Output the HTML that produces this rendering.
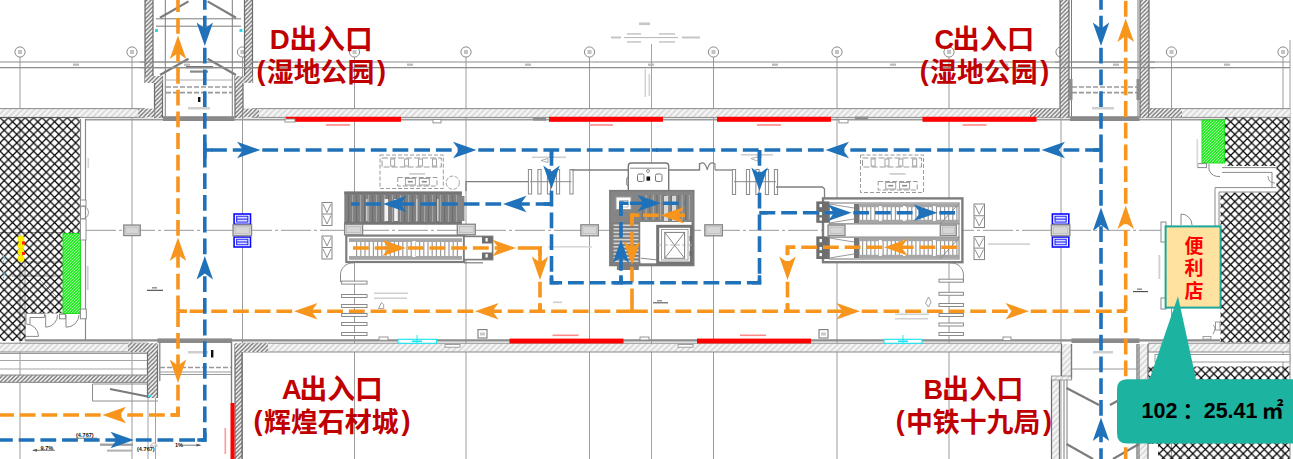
<!DOCTYPE html>
<html><head><meta charset="utf-8"><title>Station plan</title>
<style>
html,body{margin:0;padding:0;background:#fff;}
body{width:1293px;height:459px;overflow:hidden;font-family:"Liberation Sans",sans-serif;}
svg{display:block;}
svg text{font-family:"Liberation Sans",sans-serif;}
svg text.cjk{font-family:"Liberation Sans","Noto Sans CJK SC",sans-serif;}
</style></head><body>
<svg width="1293" height="459" viewBox="0 0 1293 459">
<defs>
<pattern id="xh" width="8.4" height="8.4" patternUnits="userSpaceOnUse">
<path d="M-1,-1 L9.4,9.4 M-1,9.4 L9.4,-1" stroke="#000" stroke-width="1.18" fill="none"/>
</pattern>
<pattern id="wh" width="6" height="6" patternUnits="userSpaceOnUse">
<rect width="6" height="6" fill="#f6f6f6"/><path d="M-1,7 L7,-1 M-1,1 L1,-1 M5,7 L7,5" stroke="#dcdcdc" stroke-width="2"/>
</pattern>
<pattern id="dh" width="4.2" height="4.2" patternUnits="userSpaceOnUse">
<rect width="4.2" height="4.2" fill="#f3f3f3"/><path d="M-1,5.2 L5.2,-1 M-1,1 L1,-1 M3.2,5.2 L5.2,3.2" stroke="#6c6c6c" stroke-width="1.25"/>
</pattern>
<pattern id="gh" width="3" height="3" patternUnits="userSpaceOnUse">
<rect width="3" height="3" fill="#2aec2a"/><path d="M-1,4 L4,-1 M-1,1 L1,-1 M2,4 L4,2" stroke="#b8fbb2" stroke-width="0.8"/>
</pattern>
</defs>
<rect width="1293" height="459" fill="#fff"/>
<g id="grid">
<line x1="20" y1="57.2" x2="20" y2="459" stroke="#9b9b9b" stroke-width="1" />
<circle cx="20" cy="52" r="5.1" fill="#fff" stroke="#7d7d7d" stroke-width="0.9"/>
<rect x="18" y="50" width="4" height="4" fill="#a9a9a9" opacity="0.7"/>
<line x1="132" y1="57.2" x2="132" y2="459" stroke="#9b9b9b" stroke-width="1" />
<circle cx="132" cy="52" r="5.1" fill="#fff" stroke="#7d7d7d" stroke-width="0.9"/>
<rect x="130" y="50" width="4" height="4" fill="#a9a9a9" opacity="0.7"/>
<line x1="242.5" y1="57.2" x2="242.5" y2="459" stroke="#9b9b9b" stroke-width="1" />
<circle cx="242.5" cy="52" r="5.1" fill="#fff" stroke="#7d7d7d" stroke-width="0.9"/>
<rect x="240.5" y="50" width="4" height="4" fill="#a9a9a9" opacity="0.7"/>
<line x1="354.5" y1="57.2" x2="354.5" y2="459" stroke="#9b9b9b" stroke-width="1" />
<circle cx="354.5" cy="52" r="5.1" fill="#fff" stroke="#7d7d7d" stroke-width="0.9"/>
<rect x="352.5" y="50" width="4" height="4" fill="#a9a9a9" opacity="0.7"/>
<line x1="466" y1="57.2" x2="466" y2="459" stroke="#9b9b9b" stroke-width="1" />
<circle cx="466" cy="52" r="5.1" fill="#fff" stroke="#7d7d7d" stroke-width="0.9"/>
<rect x="464" y="50" width="4" height="4" fill="#a9a9a9" opacity="0.7"/>
<line x1="589.5" y1="57.2" x2="589.5" y2="459" stroke="#9b9b9b" stroke-width="1" />
<circle cx="589.5" cy="52" r="5.1" fill="#fff" stroke="#7d7d7d" stroke-width="0.9"/>
<rect x="587.5" y="50" width="4" height="4" fill="#a9a9a9" opacity="0.7"/>
<line x1="713.5" y1="57.2" x2="713.5" y2="459" stroke="#9b9b9b" stroke-width="1" />
<circle cx="713.5" cy="52" r="5.1" fill="#fff" stroke="#7d7d7d" stroke-width="0.9"/>
<rect x="711.5" y="50" width="4" height="4" fill="#a9a9a9" opacity="0.7"/>
<line x1="837" y1="57.2" x2="837" y2="459" stroke="#9b9b9b" stroke-width="1" />
<circle cx="837" cy="52" r="5.1" fill="#fff" stroke="#7d7d7d" stroke-width="0.9"/>
<rect x="835" y="50" width="4" height="4" fill="#a9a9a9" opacity="0.7"/>
<line x1="949" y1="57.2" x2="949" y2="459" stroke="#9b9b9b" stroke-width="1" />
<circle cx="949" cy="52" r="5.1" fill="#fff" stroke="#7d7d7d" stroke-width="0.9"/>
<rect x="947" y="50" width="4" height="4" fill="#a9a9a9" opacity="0.7"/>
<line x1="1061" y1="57.2" x2="1061" y2="459" stroke="#9b9b9b" stroke-width="1" />
<circle cx="1061" cy="52" r="5.1" fill="#fff" stroke="#7d7d7d" stroke-width="0.9"/>
<rect x="1059" y="50" width="4" height="4" fill="#a9a9a9" opacity="0.7"/>
<line x1="1171.5" y1="57.2" x2="1171.5" y2="459" stroke="#9b9b9b" stroke-width="1" />
<circle cx="1171.5" cy="52" r="5.1" fill="#fff" stroke="#7d7d7d" stroke-width="0.9"/>
<rect x="1169.5" y="50" width="4" height="4" fill="#a9a9a9" opacity="0.7"/>
<line x1="1283" y1="57.2" x2="1283" y2="459" stroke="#9b9b9b" stroke-width="1" />
<circle cx="1283" cy="52" r="5.1" fill="#fff" stroke="#7d7d7d" stroke-width="0.9"/>
<rect x="1281" y="50" width="4" height="4" fill="#a9a9a9" opacity="0.7"/>
<line x1="651.5" y1="44" x2="651.5" y2="459" stroke="#9b9b9b" stroke-width="0.9" />
<line x1="0" y1="62" x2="1290" y2="62" stroke="#8d8d8d" stroke-width="1.1" />
<line x1="0" y1="67.6" x2="1290" y2="67.6" stroke="#8d8d8d" stroke-width="1.1" />
<line x1="1290" y1="40" x2="1290" y2="118" stroke="#9b9b9b" stroke-width="1" />
<line x1="86" y1="230.3" x2="1165" y2="230.3" stroke="#8e8e8e" stroke-width="0.9" stroke-dasharray="30 3 3 3"/>
<rect x="73" y="63.6" width="6" height="2.2" fill="#b9b9b9" stroke="none" stroke-width="1" />
<rect x="184" y="63.6" width="6" height="2.2" fill="#b9b9b9" stroke="none" stroke-width="1" />
<rect x="295" y="63.6" width="6" height="2.2" fill="#b9b9b9" stroke="none" stroke-width="1" />
<rect x="407" y="63.6" width="6" height="2.2" fill="#b9b9b9" stroke="none" stroke-width="1" />
<rect x="525" y="63.6" width="6" height="2.2" fill="#b9b9b9" stroke="none" stroke-width="1" />
<rect x="648" y="63.6" width="6" height="2.2" fill="#b9b9b9" stroke="none" stroke-width="1" />
<rect x="772" y="63.6" width="6" height="2.2" fill="#b9b9b9" stroke="none" stroke-width="1" />
<rect x="890" y="63.6" width="6" height="2.2" fill="#b9b9b9" stroke="none" stroke-width="1" />
<rect x="1002" y="63.6" width="6" height="2.2" fill="#b9b9b9" stroke="none" stroke-width="1" />
<rect x="1113" y="63.6" width="6" height="2.2" fill="#b9b9b9" stroke="none" stroke-width="1" />
<rect x="1224" y="63.6" width="6" height="2.2" fill="#b9b9b9" stroke="none" stroke-width="1" />
</g>
<g id="walls">
<rect x="0" y="108.6" width="145" height="8.800000000000011" fill="url(#wh)" stroke="none" stroke-width="1" />
<line x1="0" y1="108.6" x2="145" y2="108.6" stroke="#8a8a8a" stroke-width="1" />
<line x1="0" y1="117.4" x2="145" y2="117.4" stroke="#8a8a8a" stroke-width="1" />
<rect x="252.5" y="108.6" width="807.5" height="8.800000000000011" fill="url(#wh)" stroke="none" stroke-width="1" />
<line x1="252.5" y1="108.6" x2="1060" y2="108.6" stroke="#8a8a8a" stroke-width="1" />
<line x1="252.5" y1="117.4" x2="1060" y2="117.4" stroke="#8a8a8a" stroke-width="1" />
<rect x="1149" y="108.6" width="141" height="8.800000000000011" fill="url(#wh)" stroke="none" stroke-width="1" />
<line x1="1149" y1="108.6" x2="1290" y2="108.6" stroke="#8a8a8a" stroke-width="1" />
<line x1="1149" y1="117.4" x2="1290" y2="117.4" stroke="#8a8a8a" stroke-width="1" />
<line x1="85" y1="119.6" x2="1225" y2="119.6" stroke="#9a9a9a" stroke-width="1.6" />
<rect x="0" y="343.2" width="148" height="8.800000000000011" fill="url(#wh)" stroke="none" stroke-width="1" />
<line x1="0" y1="343.2" x2="148" y2="343.2" stroke="#8a8a8a" stroke-width="1" />
<line x1="0" y1="352" x2="148" y2="352" stroke="#8a8a8a" stroke-width="1" />
<rect x="241.5" y="343.2" width="820.5" height="8.800000000000011" fill="url(#wh)" stroke="none" stroke-width="1" />
<line x1="241.5" y1="343.2" x2="1062" y2="343.2" stroke="#8a8a8a" stroke-width="1" />
<line x1="241.5" y1="352" x2="1062" y2="352" stroke="#8a8a8a" stroke-width="1" />
<rect x="1148" y="343.2" width="142" height="8.800000000000011" fill="url(#wh)" stroke="none" stroke-width="1" />
<line x1="1148" y1="343.2" x2="1290" y2="343.2" stroke="#8a8a8a" stroke-width="1" />
<line x1="1148" y1="352" x2="1290" y2="352" stroke="#8a8a8a" stroke-width="1" />
<line x1="25" y1="340.3" x2="1220" y2="340.3" stroke="#8c8c8c" stroke-width="2.2" />
</g>
<g id="entrances">
<rect x="145" y="0" width="8" height="83" fill="url(#dh)" stroke="none" stroke-width="1" />
<line x1="145" y1="0" x2="145" y2="83" stroke="#6c6c6c" stroke-width="1.2" />
<line x1="153" y1="0" x2="153" y2="83" stroke="#6c6c6c" stroke-width="1.2" />
<rect x="244.5" y="0" width="8.0" height="83" fill="url(#dh)" stroke="none" stroke-width="1" />
<line x1="244.5" y1="0" x2="244.5" y2="83" stroke="#6c6c6c" stroke-width="1.2" />
<line x1="252.5" y1="0" x2="252.5" y2="83" stroke="#6c6c6c" stroke-width="1.2" />
<rect x="154.5" y="76" width="8.0" height="42" fill="url(#dh)" stroke="none" stroke-width="1" />
<line x1="154.5" y1="76" x2="154.5" y2="118" stroke="#6c6c6c" stroke-width="1.2" />
<line x1="162.5" y1="76" x2="162.5" y2="118" stroke="#6c6c6c" stroke-width="1.2" />
<rect x="235" y="76" width="8" height="42" fill="url(#dh)" stroke="none" stroke-width="1" />
<line x1="235" y1="76" x2="235" y2="118" stroke="#6c6c6c" stroke-width="1.2" />
<line x1="243" y1="76" x2="243" y2="118" stroke="#6c6c6c" stroke-width="1.2" />
<rect x="145" y="76" width="17.5" height="7" fill="url(#dh)" stroke="none" stroke-width="1" />
<rect x="235" y="76" width="17.5" height="7" fill="url(#dh)" stroke="none" stroke-width="1" />
<rect x="138" y="108.6" width="16.5" height="8.800000000000011" fill="url(#dh)" stroke="none" stroke-width="1" />
<rect x="243" y="108.6" width="16" height="8.800000000000011" fill="url(#dh)" stroke="none" stroke-width="1" />
<line x1="165.3" y1="0" x2="165.3" y2="118" stroke="#7c7c7c" stroke-width="1" />
<line x1="232.3" y1="0" x2="232.3" y2="118" stroke="#7c7c7c" stroke-width="1" />
<line x1="156" y1="18.8" x2="241" y2="18.8" stroke="#7c7c7c" stroke-width="1" />
<line x1="156" y1="26.2" x2="241" y2="26.2" stroke="#7c7c7c" stroke-width="1" />
<line x1="160" y1="17.7" x2="188.5" y2="1.4" stroke="#7c7c7c" stroke-width="2.2" />
<line x1="236" y1="17.7" x2="207.6" y2="1.4" stroke="#7c7c7c" stroke-width="2.2" />
<line x1="160" y1="75" x2="188.5" y2="58.8" stroke="#7c7c7c" stroke-width="2.2" />
<line x1="236" y1="75" x2="207.6" y2="58.8" stroke="#7c7c7c" stroke-width="2.2" />
<line x1="165" y1="80" x2="232" y2="80" stroke="#9a9a9a" stroke-width="0.8" />
<line x1="166" y1="87" x2="232" y2="87" stroke="#9a9a9a" stroke-width="1.6" stroke-dasharray="5 2"/>
<line x1="166" y1="92.6" x2="232" y2="92.6" stroke="#9a9a9a" stroke-width="1.6" stroke-dasharray="5 2"/>
<rect x="155" y="29" width="3" height="3" fill="#35d6e6" stroke="none" stroke-width="1" />
<rect x="239.5" y="29" width="3" height="3" fill="#35d6e6" stroke="none" stroke-width="1" />
<rect x="163" y="116.2" width="71.5" height="4.799999999999997" fill="#8a8a8a" stroke="none" stroke-width="1" />
<rect x="186" y="66" width="27" height="2.2" fill="#777" stroke="none" stroke-width="1" />
<rect x="190" y="70.5" width="18" height="2.2" fill="#8a8a8a" stroke="none" stroke-width="1" />
<rect x="198" y="97" width="2.4" height="5" fill="#111" stroke="none" stroke-width="1" />
<rect x="188" y="107" width="22" height="2.5" fill="#cfcfcf" stroke="none" stroke-width="1" />
<rect x="1060" y="0" width="9" height="118" fill="url(#dh)" stroke="none" stroke-width="1" />
<line x1="1060" y1="0" x2="1060" y2="118" stroke="#6c6c6c" stroke-width="1.2" />
<line x1="1069" y1="0" x2="1069" y2="118" stroke="#6c6c6c" stroke-width="1.2" />
<rect x="1140" y="0" width="9" height="118" fill="url(#dh)" stroke="none" stroke-width="1" />
<line x1="1140" y1="0" x2="1140" y2="118" stroke="#6c6c6c" stroke-width="1.2" />
<line x1="1149" y1="0" x2="1149" y2="118" stroke="#6c6c6c" stroke-width="1.2" />
<rect x="1030" y="108.6" width="30" height="8.800000000000011" fill="url(#dh)" stroke="none" stroke-width="1" />
<rect x="1149" y="108.6" width="33" height="8.800000000000011" fill="url(#dh)" stroke="none" stroke-width="1" />
<line x1="1071.5" y1="0" x2="1071.5" y2="118" stroke="#7c7c7c" stroke-width="1" />
<line x1="1138" y1="0" x2="1138" y2="118" stroke="#7c7c7c" stroke-width="1" />
<line x1="1072" y1="87" x2="1138" y2="87" stroke="#9a9a9a" stroke-width="1.6" stroke-dasharray="5 2"/>
<line x1="1072" y1="92.6" x2="1138" y2="92.6" stroke="#9a9a9a" stroke-width="1.6" stroke-dasharray="5 2"/>
<rect x="1069" y="79" width="3.5" height="21" fill="#8c8c8c" stroke="none" stroke-width="1" />
<rect x="1136.5" y="79" width="3.5" height="21" fill="#8c8c8c" stroke="none" stroke-width="1" />
<rect x="1070" y="116.2" width="69.5" height="4.799999999999997" fill="#8a8a8a" stroke="none" stroke-width="1" />
<rect x="1092" y="107" width="22" height="2.5" fill="#cfcfcf" stroke="none" stroke-width="1" />
<rect x="147.5" y="344" width="10.0" height="54" fill="url(#dh)" stroke="none" stroke-width="1" />
<line x1="147.5" y1="344" x2="147.5" y2="398" stroke="#6c6c6c" stroke-width="1.2" />
<line x1="157.5" y1="344" x2="157.5" y2="398" stroke="#6c6c6c" stroke-width="1.2" />
<rect x="235" y="344" width="7" height="115" fill="url(#dh)" stroke="none" stroke-width="1" />
<line x1="235" y1="344" x2="235" y2="459" stroke="#6c6c6c" stroke-width="1.2" />
<line x1="242" y1="344" x2="242" y2="459" stroke="#6c6c6c" stroke-width="1.2" />
<rect x="128" y="343.2" width="29.5" height="8.800000000000011" fill="url(#dh)" stroke="none" stroke-width="1" />
<rect x="235" y="343.2" width="33" height="8.800000000000011" fill="url(#dh)" stroke="none" stroke-width="1" />
<line x1="159.8" y1="341" x2="159.8" y2="381" stroke="#7c7c7c" stroke-width="1.2" />
<line x1="231.5" y1="341" x2="231.5" y2="403" stroke="#7c7c7c" stroke-width="1.4" />
<rect x="157.5" y="338.4" width="74.5" height="4.600000000000023" fill="#8a8a8a" stroke="none" stroke-width="1" />
<line x1="160" y1="367.5" x2="231" y2="367.5" stroke="#9a9a9a" stroke-width="1.6" stroke-dasharray="5 2"/>
<line x1="160" y1="372" x2="231" y2="372" stroke="#9a9a9a" stroke-width="1" />
<line x1="160" y1="374.5" x2="231" y2="374.5" stroke="#9a9a9a" stroke-width="1" />
<rect x="0" y="375" width="147.5" height="7.399999999999977" fill="url(#dh)" stroke="none" stroke-width="1" />
<line x1="0" y1="375" x2="147.5" y2="375" stroke="#8a8a8a" stroke-width="1" />
<line x1="0" y1="382.4" x2="147.5" y2="382.4" stroke="#8a8a8a" stroke-width="1" />
<line x1="0" y1="353.5" x2="147" y2="353.5" stroke="#9a9a9a" stroke-width="1" />
<line x1="0" y1="360.5" x2="147" y2="360.5" stroke="#a5a5a5" stroke-width="1" />
<line x1="0" y1="369" x2="147" y2="369" stroke="#a5a5a5" stroke-width="1" />
<polyline points="92.5,384 92.5,401 158,401" fill="none" stroke="#8e8e8e" stroke-width="1" />
<line x1="92.5" y1="384" x2="148" y2="384" stroke="#8e8e8e" stroke-width="1" />
<line x1="110" y1="389" x2="150" y2="397" stroke="#7a7a7a" stroke-width="1.8" />
<rect x="148" y="395" width="3" height="2" fill="#35d6e6" stroke="none" stroke-width="1" />
<line x1="148" y1="398" x2="148" y2="459" stroke="#9a9a9a" stroke-width="0.9" />
<line x1="155.5" y1="398" x2="155.5" y2="459" stroke="#9a9a9a" stroke-width="0.9" />
<rect x="211" y="350" width="2.4" height="7.5" fill="#111" stroke="none" stroke-width="1" />
<rect x="188" y="351" width="20" height="2.5" fill="#cfcfcf" stroke="none" stroke-width="1" />
<rect x="1061.5" y="344" width="10.0" height="36" fill="url(#wh)" stroke="none" stroke-width="1" />
<line x1="1061.5" y1="344" x2="1061.5" y2="380" stroke="#6c6c6c" stroke-width="1.2" />
<line x1="1071.5" y1="344" x2="1071.5" y2="380" stroke="#6c6c6c" stroke-width="1.2" />
<rect x="1051.5" y="378" width="8.0" height="81" fill="url(#wh)" stroke="none" stroke-width="1" />
<line x1="1051.5" y1="378" x2="1051.5" y2="459" stroke="#6c6c6c" stroke-width="1.2" />
<line x1="1059.5" y1="378" x2="1059.5" y2="459" stroke="#6c6c6c" stroke-width="1.2" />
<line x1="1064" y1="380" x2="1064" y2="459" stroke="#7c7c7c" stroke-width="1" />
<line x1="1067" y1="380" x2="1067" y2="459" stroke="#7c7c7c" stroke-width="1" />
<rect x="1051.5" y="376" width="20.0" height="4" fill="url(#wh)" stroke="#8a8a8a" stroke-width="0.8" />
<rect x="1137" y="344" width="11" height="115" fill="url(#wh)" stroke="none" stroke-width="1" />
<line x1="1137" y1="344" x2="1137" y2="459" stroke="#6c6c6c" stroke-width="1.2" />
<line x1="1148" y1="344" x2="1148" y2="459" stroke="#6c6c6c" stroke-width="1.2" />
<line x1="1071.5" y1="344" x2="1071.5" y2="378" stroke="#7c7c7c" stroke-width="1.2" />
<line x1="1139" y1="344" x2="1139" y2="459" stroke="#7c7c7c" stroke-width="1.2" />
<rect x="1071.5" y="338.4" width="68.0" height="4.600000000000023" fill="#8a8a8a" stroke="none" stroke-width="1" />
<line x1="1072" y1="369" x2="1139" y2="369" stroke="#9a9a9a" stroke-width="1" />
<line x1="1066.5" y1="388" x2="1099" y2="405" stroke="#7c7c7c" stroke-width="2.2" />
<line x1="1110" y1="405" x2="1139" y2="389" stroke="#7c7c7c" stroke-width="2.2" />
<line x1="1066.5" y1="444" x2="1093" y2="459" stroke="#7c7c7c" stroke-width="2.2" />
<line x1="1139" y1="444" x2="1113" y2="459" stroke="#7c7c7c" stroke-width="2.2" />
<rect x="1093" y="351" width="20" height="2.5" fill="#cfcfcf" stroke="none" stroke-width="1" />
</g>
<g>
<line x1="140" y1="62" x2="258" y2="62" stroke="#8d8d8d" stroke-width="1.1" />
<line x1="140" y1="67.6" x2="258" y2="67.6" stroke="#8d8d8d" stroke-width="1.1" />
<line x1="1055" y1="62" x2="1155" y2="62" stroke="#8d8d8d" stroke-width="1.1" />
<line x1="1055" y1="67.6" x2="1155" y2="67.6" stroke="#8d8d8d" stroke-width="1.1" />
</g>
<g id="bars">
<rect x="286" y="116.8" width="115" height="5.0" fill="#ff0000" stroke="none" stroke-width="1" />
<rect x="326" y="124.2" width="24" height="1.6" fill="#ff8a8a" stroke="none" stroke-width="1" />
<rect x="549" y="116.8" width="114" height="5.0" fill="#ff0000" stroke="none" stroke-width="1" />
<rect x="589" y="124.2" width="24" height="1.6" fill="#ff8a8a" stroke="none" stroke-width="1" />
<rect x="717" y="116.8" width="114" height="5.0" fill="#ff0000" stroke="none" stroke-width="1" />
<rect x="757" y="124.2" width="24" height="1.6" fill="#ff8a8a" stroke="none" stroke-width="1" />
<rect x="922.5" y="116.8" width="114.0" height="5.0" fill="#ff0000" stroke="none" stroke-width="1" />
<rect x="962.5" y="124.2" width="24" height="1.6" fill="#ff8a8a" stroke="none" stroke-width="1" />
<rect x="509.5" y="338.6" width="114.0" height="4.7999999999999545" fill="#ff0000" stroke="none" stroke-width="1" />
<rect x="552.5" y="334.5" width="26" height="1.6" fill="#ff8a8a" stroke="none" stroke-width="1" />
<rect x="697" y="338.6" width="114" height="4.7999999999999545" fill="#ff0000" stroke="none" stroke-width="1" />
<rect x="740" y="334.5" width="26" height="1.6" fill="#ff8a8a" stroke="none" stroke-width="1" />
<rect x="398" y="339.3" width="38.5" height="4.0" fill="#fff" stroke="#19e6f2" stroke-width="1.1" />
<line x1="412" y1="341.3" x2="422" y2="341.3" stroke="#19e6f2" stroke-width="1.6" />
<line x1="417" y1="335" x2="417" y2="344" stroke="#19e6f2" stroke-width="0.9" />
<rect x="884" y="339.3" width="38" height="4.0" fill="#fff" stroke="#19e6f2" stroke-width="1.1" />
<line x1="898" y1="341.3" x2="908" y2="341.3" stroke="#19e6f2" stroke-width="1.6" />
<line x1="903" y1="335" x2="903" y2="344" stroke="#19e6f2" stroke-width="0.9" />
<rect x="230.5" y="403" width="4.0" height="56" fill="#ff0000" stroke="none" stroke-width="1" />
<rect x="224.5" y="428" width="1.6" height="26" fill="#ff9a9a" stroke="none" stroke-width="1" />
</g>
<g id="xhatch">
<line x1="0" y1="232.5" x2="63" y2="232.5" stroke="#9a9a9a" stroke-width="1" />
<line x1="25" y1="262" x2="63" y2="262" stroke="#9a9a9a" stroke-width="1" />
<line x1="25" y1="262" x2="25" y2="341" stroke="#9a9a9a" stroke-width="1" />
<line x1="12" y1="276" x2="60" y2="276" stroke="#9a9a9a" stroke-width="1" />
<line x1="40" y1="280" x2="58" y2="298" stroke="#9a9a9a" stroke-width="1" />
<polygon points="0,117.4 79.8,117.4 79.8,233 63,233 63,313.5 25.5,313.5 25.5,341 0,341" fill="url(#xh)" stroke="none" stroke-width="1" />
<line x1="0" y1="117.6" x2="80" y2="117.6" stroke="#555" stroke-width="1" />
<line x1="80.5" y1="119" x2="80.5" y2="233" stroke="#8a8a8a" stroke-width="1.2" />
<line x1="85.5" y1="119" x2="85.5" y2="340" stroke="#8a8a8a" stroke-width="1.2" />
<polygon points="1225,117.4 1290,117.4 1290,342.5 1220.5,342.5 1220.5,192.5 1276.5,192.5 1276.5,166 1225,166" fill="url(#xh)" stroke="none" stroke-width="1" />
<polygon points="1148.5,366.5 1290,366.5 1290,459 1158,459 1158,444 1148.5,444" fill="url(#xh)" stroke="none" stroke-width="1" />
<line x1="1290" y1="117" x2="1290" y2="459" stroke="#8a8a8a" stroke-width="1" />
<rect x="63" y="233.5" width="17.5" height="80.0" fill="url(#gh)" stroke="#1edc1e" stroke-width="1" />
<rect x="1202" y="120" width="22.5" height="43" fill="url(#gh)" stroke="#1edc1e" stroke-width="1" />
<path d="M3,254 q3,4 0,9 M3,270 q3,4 0,9" fill="none" stroke="#7fd4f0" stroke-width="1"/>
<circle cx="21" cy="239" r="3.4" fill="#ffee00"/>
<circle cx="21" cy="245.5" r="3.4" fill="#ffee00"/>
<circle cx="21" cy="252" r="3.4" fill="#ffee00"/>
<circle cx="21" cy="258.5" r="3.4" fill="#ffee00"/>
<rect x="22" y="241.5" width="3" height="3" fill="#ff2a00" stroke="none" stroke-width="1" />
<rect x="22" y="252" width="3" height="3" fill="#ff2a00" stroke="none" stroke-width="1" />
</g>
<g id="fixtures">
<rect x="344.3" y="191.6" width="117.5" height="32.900000000000006" fill="#808080" stroke="none" stroke-width="1" />
<rect x="348" y="195" width="1.1" height="27" fill="#6c6c6c" stroke="none" stroke-width="1" />
<rect x="352" y="195" width="1.1" height="27" fill="#a2a2a2" stroke="none" stroke-width="1" />
<rect x="356" y="195" width="1.1" height="27" fill="#6c6c6c" stroke="none" stroke-width="1" />
<rect x="360" y="195" width="1.1" height="27" fill="#a2a2a2" stroke="none" stroke-width="1" />
<rect x="364" y="195" width="1.1" height="27" fill="#6c6c6c" stroke="none" stroke-width="1" />
<rect x="368" y="195" width="1.1" height="27" fill="#a2a2a2" stroke="none" stroke-width="1" />
<rect x="372" y="195" width="1.1" height="27" fill="#6c6c6c" stroke="none" stroke-width="1" />
<rect x="376" y="195" width="1.1" height="27" fill="#a2a2a2" stroke="none" stroke-width="1" />
<rect x="380" y="195" width="1.1" height="27" fill="#6c6c6c" stroke="none" stroke-width="1" />
<rect x="384" y="195" width="1.1" height="27" fill="#a2a2a2" stroke="none" stroke-width="1" />
<rect x="388" y="195" width="1.1" height="27" fill="#6c6c6c" stroke="none" stroke-width="1" />
<rect x="392" y="195" width="1.1" height="27" fill="#a2a2a2" stroke="none" stroke-width="1" />
<rect x="396" y="195" width="1.1" height="27" fill="#6c6c6c" stroke="none" stroke-width="1" />
<rect x="400" y="195" width="1.1" height="27" fill="#a2a2a2" stroke="none" stroke-width="1" />
<rect x="404" y="195" width="1.1" height="27" fill="#6c6c6c" stroke="none" stroke-width="1" />
<rect x="408" y="195" width="1.1" height="27" fill="#a2a2a2" stroke="none" stroke-width="1" />
<rect x="412" y="195" width="1.1" height="27" fill="#6c6c6c" stroke="none" stroke-width="1" />
<rect x="416" y="195" width="1.1" height="27" fill="#a2a2a2" stroke="none" stroke-width="1" />
<rect x="420" y="195" width="1.1" height="27" fill="#6c6c6c" stroke="none" stroke-width="1" />
<rect x="424" y="195" width="1.1" height="27" fill="#a2a2a2" stroke="none" stroke-width="1" />
<rect x="428" y="195" width="1.1" height="27" fill="#6c6c6c" stroke="none" stroke-width="1" />
<rect x="432" y="195" width="1.1" height="27" fill="#a2a2a2" stroke="none" stroke-width="1" />
<rect x="436" y="195" width="1.1" height="27" fill="#6c6c6c" stroke="none" stroke-width="1" />
<rect x="440" y="195" width="1.1" height="27" fill="#a2a2a2" stroke="none" stroke-width="1" />
<rect x="444" y="195" width="1.1" height="27" fill="#6c6c6c" stroke="none" stroke-width="1" />
<rect x="448" y="195" width="1.1" height="27" fill="#a2a2a2" stroke="none" stroke-width="1" />
<rect x="452" y="195" width="1.1" height="27" fill="#6c6c6c" stroke="none" stroke-width="1" />
<rect x="456" y="195" width="1.1" height="27" fill="#a2a2a2" stroke="none" stroke-width="1" />
<rect x="460" y="195" width="1.1" height="27" fill="#6c6c6c" stroke="none" stroke-width="1" />
<rect x="344.3" y="191.6" width="117.5" height="2.5999999999999943" fill="#747474" stroke="none" stroke-width="1" />
<rect x="344.3" y="221.8" width="117.5" height="2.6999999999999886" fill="#747474" stroke="none" stroke-width="1" />
<rect x="384.6" y="199" width="3.6" height="22" fill="#f2f2f2" stroke="none" stroke-width="1" />
<rect x="394.2" y="199" width="3.6" height="22" fill="#f2f2f2" stroke="none" stroke-width="1" />
<rect x="366" y="199" width="1.6" height="22" fill="#c9c9c9" stroke="none" stroke-width="1" />
<rect x="416" y="199" width="1.6" height="22" fill="#c9c9c9" stroke="none" stroke-width="1" />
<rect x="437" y="199" width="1.6" height="22" fill="#c9c9c9" stroke="none" stroke-width="1" />
<rect x="458" y="196" width="6.5" height="25" fill="#858585" stroke="none" stroke-width="1" />
<rect x="346.3" y="235.6" width="117.69999999999999" height="26.400000000000006" fill="#fff" stroke="#7d7d7d" stroke-width="2.2" />
<rect x="349" y="238.2" width="113" height="3.8000000000000114" fill="#a6a6a6" stroke="none" stroke-width="1" />
<rect x="349" y="256" width="113" height="3.8000000000000114" fill="#a6a6a6" stroke="none" stroke-width="1" />
<rect x="356.0" y="242" width="1.2" height="14" fill="#9b9b9b" stroke="none" stroke-width="1" />
<rect x="360.2" y="242" width="1.2" height="14" fill="#9b9b9b" stroke="none" stroke-width="1" />
<rect x="364.4" y="242" width="1.2" height="14" fill="#9b9b9b" stroke="none" stroke-width="1" />
<rect x="368.6" y="242" width="1.2" height="14" fill="#9b9b9b" stroke="none" stroke-width="1" />
<rect x="372.8" y="242" width="1.2" height="14" fill="#9b9b9b" stroke="none" stroke-width="1" />
<rect x="377.0" y="242" width="1.2" height="14" fill="#9b9b9b" stroke="none" stroke-width="1" />
<rect x="381.2" y="242" width="1.2" height="14" fill="#9b9b9b" stroke="none" stroke-width="1" />
<rect x="385.4" y="242" width="1.2" height="14" fill="#9b9b9b" stroke="none" stroke-width="1" />
<rect x="389.6" y="242" width="1.2" height="14" fill="#9b9b9b" stroke="none" stroke-width="1" />
<rect x="393.8" y="242" width="1.2" height="14" fill="#9b9b9b" stroke="none" stroke-width="1" />
<rect x="398.0" y="242" width="1.2" height="14" fill="#9b9b9b" stroke="none" stroke-width="1" />
<rect x="402.2" y="242" width="1.2" height="14" fill="#9b9b9b" stroke="none" stroke-width="1" />
<rect x="406.4" y="242" width="1.2" height="14" fill="#9b9b9b" stroke="none" stroke-width="1" />
<rect x="410.6" y="242" width="1.2" height="14" fill="#9b9b9b" stroke="none" stroke-width="1" />
<rect x="414.8" y="242" width="1.2" height="14" fill="#9b9b9b" stroke="none" stroke-width="1" />
<rect x="419.0" y="242" width="1.2" height="14" fill="#9b9b9b" stroke="none" stroke-width="1" />
<rect x="423.2" y="242" width="1.2" height="14" fill="#9b9b9b" stroke="none" stroke-width="1" />
<rect x="427.4" y="242" width="1.2" height="14" fill="#9b9b9b" stroke="none" stroke-width="1" />
<rect x="431.6" y="242" width="1.2" height="14" fill="#9b9b9b" stroke="none" stroke-width="1" />
<rect x="435.8" y="242" width="1.2" height="14" fill="#9b9b9b" stroke="none" stroke-width="1" />
<rect x="440.0" y="242" width="1.2" height="14" fill="#9b9b9b" stroke="none" stroke-width="1" />
<rect x="444.2" y="242" width="1.2" height="14" fill="#9b9b9b" stroke="none" stroke-width="1" />
<rect x="448.4" y="242" width="1.2" height="14" fill="#9b9b9b" stroke="none" stroke-width="1" />
<rect x="452.6" y="242" width="1.2" height="14" fill="#9b9b9b" stroke="none" stroke-width="1" />
<rect x="456.8" y="242" width="1.2" height="14" fill="#9b9b9b" stroke="none" stroke-width="1" />
<rect x="412.5" y="241" width="3" height="16" fill="#fff" stroke="none" stroke-width="1" />
<rect x="464" y="236.4" width="28.600000000000023" height="23.200000000000017" fill="#fff" stroke="#7d7d7d" stroke-width="1.6" />
<rect x="482" y="236.4" width="10.600000000000023" height="7.099999999999994" fill="#6e6e6e" stroke="none" stroke-width="1" />
<rect x="482" y="252.5" width="10.600000000000023" height="7.100000000000023" fill="#6e6e6e" stroke="none" stroke-width="1" />
<rect x="485.5" y="238" width="2.2" height="3.5" fill="#fff" stroke="none" stroke-width="1" />
<rect x="485.5" y="254" width="2.2" height="3.5" fill="#fff" stroke="none" stroke-width="1" />
<line x1="464" y1="262.8" x2="483" y2="262.8" stroke="#7d7d7d" stroke-width="1.2" />
<rect x="344.6" y="224.25" width="18" height="10.5" fill="#dcdcdc" stroke="#858585" stroke-width="1.3" />
<rect x="346.6" y="226.25" width="14" height="6.5" fill="#d6d6d6" stroke="#b0b0b0" stroke-width="0.6" />
<rect x="457.3" y="224.25" width="18" height="10.5" fill="#dcdcdc" stroke="#858585" stroke-width="1.3" />
<rect x="459.3" y="226.25" width="14" height="6.5" fill="#d6d6d6" stroke="#b0b0b0" stroke-width="0.6" />
<rect x="322" y="202.5" width="10" height="23" fill="#fff" stroke="#858585" stroke-width="1" />
<line x1="322" y1="214.0" x2="332" y2="214.0" stroke="#858585" stroke-width="1" />
<polyline points="323,204.0 327.0,212.5 331,204.0" fill="none" stroke="#858585" stroke-width="0.9" />
<polyline points="323,215.5 327.0,224.0 331,215.5" fill="none" stroke="#858585" stroke-width="0.9" />
<rect x="322" y="236" width="10" height="23" fill="#fff" stroke="#858585" stroke-width="1" />
<line x1="322" y1="247.5" x2="332" y2="247.5" stroke="#858585" stroke-width="1" />
<polyline points="323,237.5 327.0,246.0 331,237.5" fill="none" stroke="#858585" stroke-width="0.9" />
<polyline points="323,249.0 327.0,257.5 331,249.0" fill="none" stroke="#858585" stroke-width="0.9" />
<rect x="380" y="155" width="63.30000000000001" height="33.5" fill="none" stroke="#9a9a9a" stroke-width="1" stroke-dasharray="4 2"/>
<rect x="382" y="158" width="59.30000000000001" height="9" fill="none" stroke="#9a9a9a" stroke-width="1" stroke-dasharray="6 2"/>
<rect x="390.66" y="159" width="4" height="7" fill="#fff" stroke="#9a9a9a" stroke-width="0.9" />
<rect x="404.586" y="159" width="4" height="7" fill="#fff" stroke="#9a9a9a" stroke-width="0.9" />
<rect x="418.512" y="159" width="4" height="7" fill="#fff" stroke="#9a9a9a" stroke-width="0.9" />
<rect x="432.438" y="159" width="4" height="7" fill="#fff" stroke="#9a9a9a" stroke-width="0.9" />
<rect x="397.724" y="177.5" width="39.24600000000004" height="8.5" fill="none" stroke="#9a9a9a" stroke-width="1" stroke-dasharray="5 2"/>
<rect x="405.384" y="178.5" width="10" height="6.5" fill="#fff" stroke="#9a9a9a" stroke-width="0.9" />
<rect x="407.884" y="180.9" width="5" height="1.6" fill="#8a8a8a" stroke="none" stroke-width="1" />
<rect x="419.31" y="178.5" width="10" height="6.5" fill="#fff" stroke="#9a9a9a" stroke-width="0.9" />
<rect x="421.81" y="180.9" width="5" height="1.6" fill="#8a8a8a" stroke="none" stroke-width="1" />
<rect x="409.118" y="173" width="16" height="1.8" fill="#cfcfcf" stroke="none" stroke-width="1" />
<rect x="860.5" y="155" width="63.0" height="37.5" fill="none" stroke="#9a9a9a" stroke-width="1" stroke-dasharray="4 2"/>
<rect x="862.5" y="158" width="59.0" height="9" fill="none" stroke="#9a9a9a" stroke-width="1" stroke-dasharray="6 2"/>
<rect x="871.1" y="159" width="4" height="7" fill="#fff" stroke="#9a9a9a" stroke-width="0.9" />
<rect x="884.96" y="159" width="4" height="7" fill="#fff" stroke="#9a9a9a" stroke-width="0.9" />
<rect x="898.82" y="159" width="4" height="7" fill="#fff" stroke="#9a9a9a" stroke-width="0.9" />
<rect x="912.68" y="159" width="4" height="7" fill="#fff" stroke="#9a9a9a" stroke-width="0.9" />
<rect x="878.14" y="181.5" width="39.06000000000006" height="8.5" fill="none" stroke="#9a9a9a" stroke-width="1" stroke-dasharray="5 2"/>
<rect x="885.74" y="182.5" width="10" height="6.5" fill="#fff" stroke="#9a9a9a" stroke-width="0.9" />
<rect x="888.24" y="184.9" width="5" height="1.6" fill="#8a8a8a" stroke="none" stroke-width="1" />
<rect x="899.6" y="182.5" width="10" height="6.5" fill="#fff" stroke="#9a9a9a" stroke-width="0.9" />
<rect x="902.1" y="184.9" width="5" height="1.6" fill="#8a8a8a" stroke="none" stroke-width="1" />
<rect x="889.48" y="173" width="16" height="1.8" fill="#cfcfcf" stroke="none" stroke-width="1" />
<circle cx="452.8" cy="182.7" r="6.6" fill="none" stroke="#a2a2a2" stroke-width="1" stroke-dasharray="4 1.5"/>
<polyline points="466,191 466,181.7 530,181.7" fill="none" stroke="#7f7f7f" stroke-width="1.3" />
<rect x="528.4" y="169.5" width="3.2" height="24.5" fill="#fff" stroke="#8a8a8a" stroke-width="1" />
<rect x="537.9" y="169.5" width="3.2" height="24.5" fill="#fff" stroke="#8a8a8a" stroke-width="1" />
<rect x="547.4" y="169.5" width="3.2" height="24.5" fill="#fff" stroke="#8a8a8a" stroke-width="1" />
<rect x="556.4" y="169.5" width="3.2" height="24.5" fill="#fff" stroke="#8a8a8a" stroke-width="1" />
<rect x="569.9" y="169.5" width="3.2" height="24.5" fill="#fff" stroke="#8a8a8a" stroke-width="1" />
<line x1="530" y1="181.7" x2="571.5" y2="181.7" stroke="#8a8a8a" stroke-width="1" />
<polyline points="571.5,170 628,170" fill="none" stroke="#7f7f7f" stroke-width="1.3" />
<polyline points="668.7,170 699.5,170 699.5,163" fill="none" stroke="#7f7f7f" stroke-width="1.3" />
<path d="M699.5,170 V164 Q705,160 707.2,170 Q709.5,160 715,164 V170" fill="none" stroke="#7f7f7f" stroke-width="1.1"/>
<polyline points="715,170 734,170" fill="none" stroke="#7f7f7f" stroke-width="1.3" />
<rect x="732.4" y="169.5" width="3.2" height="25.0" fill="#fff" stroke="#8a8a8a" stroke-width="1" />
<rect x="746.4" y="169.5" width="3.2" height="25.0" fill="#fff" stroke="#8a8a8a" stroke-width="1" />
<rect x="755.9" y="169.5" width="3.2" height="25.0" fill="#fff" stroke="#8a8a8a" stroke-width="1" />
<rect x="765.4" y="169.5" width="3.2" height="25.0" fill="#fff" stroke="#8a8a8a" stroke-width="1" />
<rect x="774.4" y="169.5" width="3.2" height="25.0" fill="#fff" stroke="#8a8a8a" stroke-width="1" />
<line x1="734" y1="181.7" x2="776" y2="181.7" stroke="#8a8a8a" stroke-width="1" />
<polyline points="776,187 822.5,187 824.5,189 824.5,198" fill="none" stroke="#7f7f7f" stroke-width="1.3" />
<rect x="532" y="156.5" width="34" height="1.6" fill="#cfcfcf" stroke="none" stroke-width="1" />
<rect x="741" y="154" width="32" height="1.6" fill="#cfcfcf" stroke="none" stroke-width="1" />
<path d="M541,160.5 l7,-2 v4 z M751,158.5 l7,-1.6 v4.5 z" fill="#fff" stroke="#9a9a9a" stroke-width="0.8"/>
<path d="M628.3,191 V166 Q628.3,163 631.3,163 H665.7 Q668.7,163 668.7,166 V191" fill="#fff" stroke="#777" stroke-width="1.4"/>
<line x1="630" y1="168.2" x2="667" y2="168.2" stroke="#8a8a8a" stroke-width="1" />
<path d="M629,176 l-2.2,2 v7 l2.2,2" fill="none" stroke="#777" stroke-width="1"/>
<rect x="637.5" y="174" width="6.5" height="7.5" fill="#fff" stroke="#777" stroke-width="1" rx="1.5"/>
<rect x="655.5" y="174" width="6.5" height="7.5" fill="#fff" stroke="#777" stroke-width="1" rx="1.5"/>
<rect x="646.5" y="176.5" width="3.6" height="4.2" fill="#111" stroke="none" stroke-width="1" />
<circle cx="648" cy="171" r="1.5" fill="#fff" stroke="#777" stroke-width="0.8"/>
<rect x="610.6" y="191.4" width="82.39999999999998" height="73.4" fill="#fff" stroke="#7a7a7a" stroke-width="3" />
<rect x="610.6" y="191.4" width="82.39999999999998" height="30.599999999999994" fill="#858585" stroke="none" stroke-width="1" />
<rect x="642.0" y="195" width="1.1" height="25" fill="#6f6f6f" stroke="none" stroke-width="1" />
<rect x="645.6" y="195" width="1.1" height="25" fill="#a9a9a9" stroke="none" stroke-width="1" />
<rect x="649.2" y="195" width="1.1" height="25" fill="#6f6f6f" stroke="none" stroke-width="1" />
<rect x="652.8" y="195" width="1.1" height="25" fill="#a9a9a9" stroke="none" stroke-width="1" />
<rect x="656.4" y="195" width="1.1" height="25" fill="#6f6f6f" stroke="none" stroke-width="1" />
<rect x="660.0" y="195" width="1.1" height="25" fill="#a9a9a9" stroke="none" stroke-width="1" />
<rect x="663.6" y="195" width="1.1" height="25" fill="#6f6f6f" stroke="none" stroke-width="1" />
<rect x="667.2" y="195" width="1.1" height="25" fill="#a9a9a9" stroke="none" stroke-width="1" />
<rect x="670.8" y="195" width="1.1" height="25" fill="#6f6f6f" stroke="none" stroke-width="1" />
<rect x="674.4" y="195" width="1.1" height="25" fill="#a9a9a9" stroke="none" stroke-width="1" />
<rect x="678.0" y="195" width="1.1" height="25" fill="#6f6f6f" stroke="none" stroke-width="1" />
<rect x="681.6" y="195" width="1.1" height="25" fill="#a9a9a9" stroke="none" stroke-width="1" />
<rect x="685.2" y="195" width="1.1" height="25" fill="#6f6f6f" stroke="none" stroke-width="1" />
<rect x="688.8" y="195" width="1.1" height="25" fill="#a9a9a9" stroke="none" stroke-width="1" />
<rect x="664" y="196" width="4" height="25" fill="#d8d8d8" stroke="none" stroke-width="1" />
<rect x="672" y="196" width="4" height="25" fill="#d8d8d8" stroke="none" stroke-width="1" />
<rect x="616" y="197" width="15" height="12.5" fill="#fff" stroke="#9a9a9a" stroke-width="1" />
<rect x="620" y="200.5" width="8" height="6.5" fill="#fff" stroke="#aaa" stroke-width="0.8" />
<rect x="610.6" y="222" width="29.899999999999977" height="42.80000000000001" fill="#7f7f7f" stroke="none" stroke-width="1" />
<rect x="613.5" y="224.5" width="25" height="1.5" fill="#d6d6d6" stroke="none" stroke-width="1" />
<rect x="613.5" y="228.1" width="25" height="1.5" fill="#d6d6d6" stroke="none" stroke-width="1" />
<rect x="613.5" y="231.7" width="25" height="1.5" fill="#d6d6d6" stroke="none" stroke-width="1" />
<rect x="613.5" y="235.3" width="25" height="1.5" fill="#d6d6d6" stroke="none" stroke-width="1" />
<rect x="613.5" y="238.9" width="25" height="1.5" fill="#d6d6d6" stroke="none" stroke-width="1" />
<rect x="613.5" y="242.5" width="25" height="1.5" fill="#d6d6d6" stroke="none" stroke-width="1" />
<rect x="613.5" y="246.1" width="25" height="1.5" fill="#d6d6d6" stroke="none" stroke-width="1" />
<rect x="613.5" y="249.7" width="25" height="1.5" fill="#d6d6d6" stroke="none" stroke-width="1" />
<rect x="613.5" y="253.3" width="25" height="1.5" fill="#d6d6d6" stroke="none" stroke-width="1" />
<rect x="613.5" y="256.9" width="25" height="1.5" fill="#d6d6d6" stroke="none" stroke-width="1" />
<rect x="613.5" y="260.5" width="25" height="1.5" fill="#d6d6d6" stroke="none" stroke-width="1" />
<rect x="640.5" y="222" width="17.5" height="40" fill="#fff" stroke="none" stroke-width="1" />
<line x1="641" y1="258.2" x2="658" y2="260" stroke="#8a8a8a" stroke-width="1" />
<rect x="616.9" y="264.8" width="21.899999999999977" height="5.199999999999989" fill="#7c7c7c" stroke="none" stroke-width="1" />
<rect x="657.7" y="226.3" width="33.69999999999993" height="36.69999999999999" fill="#fff" stroke="#747474" stroke-width="3" />
<rect x="661.5" y="229.5" width="26.5" height="30.5" fill="#fff" stroke="#9c9c9c" stroke-width="1" />
<rect x="664.8" y="232.4" width="19.800000000000068" height="25.900000000000006" fill="#fff" stroke="#7c7c7c" stroke-width="1" />
<line x1="664.8" y1="232.4" x2="684.6" y2="258.3" stroke="#7c7c7c" stroke-width="0.9" />
<line x1="684.6" y1="232.4" x2="664.8" y2="258.3" stroke="#7c7c7c" stroke-width="0.9" />
<line x1="658" y1="245" x2="692" y2="245" stroke="#a8a8a8" stroke-width="0.8" stroke-dasharray="4 2"/>
<rect x="689.5" y="236" width="2.6" height="5" fill="#6c6c6c" stroke="none" stroke-width="1" />
<rect x="689.5" y="251" width="2.6" height="5" fill="#6c6c6c" stroke="none" stroke-width="1" />
<rect x="580.85" y="224.8" width="17.5" height="11" fill="#dcdcdc" stroke="#858585" stroke-width="1.3" />
<rect x="582.85" y="226.8" width="13.5" height="7" fill="#d6d6d6" stroke="#b0b0b0" stroke-width="0.6" />
<rect x="704.85" y="224.8" width="17.5" height="11" fill="#dcdcdc" stroke="#858585" stroke-width="1.3" />
<rect x="706.85" y="226.8" width="13.5" height="7" fill="#d6d6d6" stroke="#b0b0b0" stroke-width="0.6" />
<rect x="123.75" y="225.05" width="16.5" height="10.5" fill="#dcdcdc" stroke="#858585" stroke-width="1.3" />
<rect x="125.75" y="227.05" width="12.5" height="6.5" fill="#d6d6d6" stroke="#b0b0b0" stroke-width="0.6" />
<rect x="823" y="198.4" width="139.39999999999998" height="63.79999999999998" fill="#fff" stroke="#7d7d7d" stroke-width="2.4" />
<rect x="816.3" y="201.4" width="13.100000000000023" height="21.400000000000006" fill="#6e6e6e" stroke="none" stroke-width="1" />
<rect x="816.3" y="236.4" width="13.100000000000023" height="22.599999999999994" fill="#6e6e6e" stroke="none" stroke-width="1" />
<rect x="819.5" y="204" width="2.4" height="3.2" fill="#fff" stroke="none" stroke-width="1" />
<rect x="819.5" y="212" width="2.4" height="3.2" fill="#fff" stroke="none" stroke-width="1" />
<rect x="819.5" y="217.5" width="2.4" height="3.2" fill="#fff" stroke="none" stroke-width="1" />
<rect x="819.5" y="239" width="2.4" height="3.2" fill="#fff" stroke="none" stroke-width="1" />
<rect x="819.5" y="247" width="2.4" height="3.2" fill="#fff" stroke="none" stroke-width="1" />
<rect x="819.5" y="253" width="2.4" height="3.2" fill="#fff" stroke="none" stroke-width="1" />
<rect x="829.4" y="203" width="129.60000000000002" height="21" fill="#fff" stroke="#8a8a8a" stroke-width="1.2" />
<rect x="854" y="204" width="5.5" height="19" fill="#757575" stroke="none" stroke-width="1" />
<rect x="859.5" y="203.6" width="99.5" height="3.5999999999999943" fill="#a6a6a6" stroke="none" stroke-width="1" />
<rect x="859.5" y="219.8" width="99.5" height="3.5999999999999943" fill="#a6a6a6" stroke="none" stroke-width="1" />
<rect x="862.0" y="207" width="1.2" height="13" fill="#9b9b9b" stroke="none" stroke-width="1" />
<rect x="866.1" y="207" width="1.2" height="13" fill="#9b9b9b" stroke="none" stroke-width="1" />
<rect x="870.2" y="207" width="1.2" height="13" fill="#9b9b9b" stroke="none" stroke-width="1" />
<rect x="874.3" y="207" width="1.2" height="13" fill="#9b9b9b" stroke="none" stroke-width="1" />
<rect x="878.4" y="207" width="1.2" height="13" fill="#9b9b9b" stroke="none" stroke-width="1" />
<rect x="882.5" y="207" width="1.2" height="13" fill="#9b9b9b" stroke="none" stroke-width="1" />
<rect x="886.6" y="207" width="1.2" height="13" fill="#9b9b9b" stroke="none" stroke-width="1" />
<rect x="890.7" y="207" width="1.2" height="13" fill="#9b9b9b" stroke="none" stroke-width="1" />
<rect x="894.8" y="207" width="1.2" height="13" fill="#9b9b9b" stroke="none" stroke-width="1" />
<rect x="898.9" y="207" width="1.2" height="13" fill="#9b9b9b" stroke="none" stroke-width="1" />
<rect x="903.0" y="207" width="1.2" height="13" fill="#9b9b9b" stroke="none" stroke-width="1" />
<rect x="907.1" y="207" width="1.2" height="13" fill="#9b9b9b" stroke="none" stroke-width="1" />
<rect x="911.2" y="207" width="1.2" height="13" fill="#9b9b9b" stroke="none" stroke-width="1" />
<rect x="915.3" y="207" width="1.2" height="13" fill="#9b9b9b" stroke="none" stroke-width="1" />
<rect x="919.4" y="207" width="1.2" height="13" fill="#9b9b9b" stroke="none" stroke-width="1" />
<rect x="923.5" y="207" width="1.2" height="13" fill="#9b9b9b" stroke="none" stroke-width="1" />
<rect x="927.6" y="207" width="1.2" height="13" fill="#9b9b9b" stroke="none" stroke-width="1" />
<rect x="931.7" y="207" width="1.2" height="13" fill="#9b9b9b" stroke="none" stroke-width="1" />
<rect x="935.8" y="207" width="1.2" height="13" fill="#9b9b9b" stroke="none" stroke-width="1" />
<rect x="939.9" y="207" width="1.2" height="13" fill="#9b9b9b" stroke="none" stroke-width="1" />
<rect x="944.0" y="207" width="1.2" height="13" fill="#9b9b9b" stroke="none" stroke-width="1" />
<rect x="948.1" y="207" width="1.2" height="13" fill="#9b9b9b" stroke="none" stroke-width="1" />
<rect x="952.2" y="207" width="1.2" height="13" fill="#9b9b9b" stroke="none" stroke-width="1" />
<rect x="956.3" y="207" width="1.2" height="13" fill="#9b9b9b" stroke="none" stroke-width="1" />
<rect x="879" y="206" width="2.6" height="15" fill="#fff" stroke="none" stroke-width="1" />
<rect x="903" y="206" width="2.6" height="15" fill="#fff" stroke="none" stroke-width="1" />
<rect x="933" y="206" width="2.6" height="15" fill="#fff" stroke="none" stroke-width="1" />
<line x1="829.4" y1="204" x2="854" y2="208" stroke="#9a9a9a" stroke-width="1" />
<line x1="829.4" y1="223" x2="854" y2="219" stroke="#9a9a9a" stroke-width="1" />
<rect x="829.4" y="237" width="129.60000000000002" height="22" fill="#fff" stroke="#8a8a8a" stroke-width="1.2" />
<rect x="854" y="238" width="5.5" height="20" fill="#757575" stroke="none" stroke-width="1" />
<rect x="859.5" y="237.6" width="99.5" height="3.5999999999999943" fill="#a6a6a6" stroke="none" stroke-width="1" />
<rect x="859.5" y="254.8" width="99.5" height="3.599999999999966" fill="#a6a6a6" stroke="none" stroke-width="1" />
<rect x="862.0" y="241" width="1.2" height="14" fill="#9b9b9b" stroke="none" stroke-width="1" />
<rect x="866.1" y="241" width="1.2" height="14" fill="#9b9b9b" stroke="none" stroke-width="1" />
<rect x="870.2" y="241" width="1.2" height="14" fill="#9b9b9b" stroke="none" stroke-width="1" />
<rect x="874.3" y="241" width="1.2" height="14" fill="#9b9b9b" stroke="none" stroke-width="1" />
<rect x="878.4" y="241" width="1.2" height="14" fill="#9b9b9b" stroke="none" stroke-width="1" />
<rect x="882.5" y="241" width="1.2" height="14" fill="#9b9b9b" stroke="none" stroke-width="1" />
<rect x="886.6" y="241" width="1.2" height="14" fill="#9b9b9b" stroke="none" stroke-width="1" />
<rect x="890.7" y="241" width="1.2" height="14" fill="#9b9b9b" stroke="none" stroke-width="1" />
<rect x="894.8" y="241" width="1.2" height="14" fill="#9b9b9b" stroke="none" stroke-width="1" />
<rect x="898.9" y="241" width="1.2" height="14" fill="#9b9b9b" stroke="none" stroke-width="1" />
<rect x="903.0" y="241" width="1.2" height="14" fill="#9b9b9b" stroke="none" stroke-width="1" />
<rect x="907.1" y="241" width="1.2" height="14" fill="#9b9b9b" stroke="none" stroke-width="1" />
<rect x="911.2" y="241" width="1.2" height="14" fill="#9b9b9b" stroke="none" stroke-width="1" />
<rect x="915.3" y="241" width="1.2" height="14" fill="#9b9b9b" stroke="none" stroke-width="1" />
<rect x="919.4" y="241" width="1.2" height="14" fill="#9b9b9b" stroke="none" stroke-width="1" />
<rect x="923.5" y="241" width="1.2" height="14" fill="#9b9b9b" stroke="none" stroke-width="1" />
<rect x="927.6" y="241" width="1.2" height="14" fill="#9b9b9b" stroke="none" stroke-width="1" />
<rect x="931.7" y="241" width="1.2" height="14" fill="#9b9b9b" stroke="none" stroke-width="1" />
<rect x="935.8" y="241" width="1.2" height="14" fill="#9b9b9b" stroke="none" stroke-width="1" />
<rect x="939.9" y="241" width="1.2" height="14" fill="#9b9b9b" stroke="none" stroke-width="1" />
<rect x="944.0" y="241" width="1.2" height="14" fill="#9b9b9b" stroke="none" stroke-width="1" />
<rect x="948.1" y="241" width="1.2" height="14" fill="#9b9b9b" stroke="none" stroke-width="1" />
<rect x="952.2" y="241" width="1.2" height="14" fill="#9b9b9b" stroke="none" stroke-width="1" />
<rect x="956.3" y="241" width="1.2" height="14" fill="#9b9b9b" stroke="none" stroke-width="1" />
<rect x="879" y="240" width="2.6" height="16" fill="#fff" stroke="none" stroke-width="1" />
<rect x="903" y="240" width="2.6" height="16" fill="#fff" stroke="none" stroke-width="1" />
<rect x="933" y="240" width="2.6" height="16" fill="#fff" stroke="none" stroke-width="1" />
<line x1="829.4" y1="238" x2="854" y2="242" stroke="#9a9a9a" stroke-width="1" />
<line x1="829.4" y1="258" x2="854" y2="254" stroke="#9a9a9a" stroke-width="1" />
<line x1="940" y1="224" x2="959" y2="203.5" stroke="#8e8e8e" stroke-width="1" />
<line x1="940" y1="259" x2="959" y2="238" stroke="#8e8e8e" stroke-width="1" />
<rect x="829.4" y="224" width="129.60000000000002" height="13" fill="#fff" stroke="#8a8a8a" stroke-width="1" />
<rect x="828.0" y="225.05" width="17" height="10.5" fill="#dcdcdc" stroke="#858585" stroke-width="1.3" />
<rect x="830.0" y="227.05" width="13" height="6.5" fill="#d6d6d6" stroke="#b0b0b0" stroke-width="0.6" />
<rect x="940.3" y="225.05" width="16" height="10.5" fill="#dcdcdc" stroke="#858585" stroke-width="1.3" />
<rect x="942.3" y="227.05" width="12" height="6.5" fill="#d6d6d6" stroke="#b0b0b0" stroke-width="0.6" />
<rect x="974" y="204" width="10.5" height="23.5" fill="#fff" stroke="#858585" stroke-width="1" />
<line x1="974" y1="215.75" x2="984.5" y2="215.75" stroke="#858585" stroke-width="1" />
<polyline points="975,205.5 979.25,214.25 983.5,205.5" fill="none" stroke="#858585" stroke-width="0.9" />
<polyline points="975,217.25 979.25,226.0 983.5,217.25" fill="none" stroke="#858585" stroke-width="0.9" />
<rect x="974" y="236.6" width="10.5" height="23" fill="#fff" stroke="#858585" stroke-width="1" />
<line x1="974" y1="248.1" x2="984.5" y2="248.1" stroke="#858585" stroke-width="1" />
<polyline points="975,238.1 979.25,246.6 983.5,238.1" fill="none" stroke="#858585" stroke-width="0.9" />
<polyline points="975,249.6 979.25,258.1 983.5,249.6" fill="none" stroke="#858585" stroke-width="0.9" />
<rect x="988" y="243.3" width="42" height="1.6" fill="#d0d0d0" stroke="none" stroke-width="1" />
<rect x="548" y="246" width="44" height="1.6" fill="#d8d8d8" stroke="none" stroke-width="1" />
<rect x="341.6" y="281.1" width="25.399999999999977" height="3" fill="#fff" stroke="#8a8a8a" stroke-width="1" />
<rect x="341.6" y="294.5" width="25.399999999999977" height="3" fill="#fff" stroke="#8a8a8a" stroke-width="1" />
<rect x="341.6" y="304.5" width="25.399999999999977" height="3" fill="#fff" stroke="#8a8a8a" stroke-width="1" />
<rect x="341.6" y="313.5" width="25.399999999999977" height="3" fill="#fff" stroke="#8a8a8a" stroke-width="1" />
<rect x="341.6" y="322.5" width="25.399999999999977" height="3" fill="#fff" stroke="#8a8a8a" stroke-width="1" />
<rect x="341.6" y="332.5" width="25.399999999999977" height="3" fill="#fff" stroke="#8a8a8a" stroke-width="1" />
<path d="M353.5,263 A12,12 0 0 0 340.5,276 V282" fill="none" stroke="#8a8a8a" stroke-width="1"/>
<rect x="939" y="279.2" width="24.399999999999977" height="3" fill="#fff" stroke="#8a8a8a" stroke-width="1" />
<rect x="939" y="292.3" width="24.399999999999977" height="3" fill="#fff" stroke="#8a8a8a" stroke-width="1" />
<rect x="939" y="303.5" width="24.399999999999977" height="3" fill="#fff" stroke="#8a8a8a" stroke-width="1" />
<rect x="939" y="313.5" width="24.399999999999977" height="3" fill="#fff" stroke="#8a8a8a" stroke-width="1" />
<rect x="939" y="323.0" width="24.399999999999977" height="3" fill="#fff" stroke="#8a8a8a" stroke-width="1" />
<rect x="939" y="332.5" width="24.399999999999977" height="3" fill="#fff" stroke="#8a8a8a" stroke-width="1" />
<path d="M950.5,263 A12,12 0 0 1 963.4,276 V281" fill="none" stroke="#8a8a8a" stroke-width="1"/>
<rect x="478" y="329.6" width="9" height="8.4" fill="#fff" stroke="#7c7c7c" stroke-width="1.1" />
<rect x="480" y="332.5" width="5" height="3" fill="#c8c8c8" stroke="none" stroke-width="1" />
<rect x="819" y="329.6" width="9" height="8.4" fill="#fff" stroke="#7c7c7c" stroke-width="1.1" />
<rect x="821" y="332.5" width="5" height="3" fill="#c8c8c8" stroke="none" stroke-width="1" />
<rect x="374" y="292.5" width="34" height="1.5" fill="#d0d0d0" stroke="none" stroke-width="1" />
<rect x="374" y="297.5" width="33" height="1.5" fill="#d0d0d0" stroke="none" stroke-width="1" />
<path d="M378.5,308.5 l3,-6 l2.2,2.2 v4 z" fill="#fff" stroke="#8a8a8a" stroke-width="0.8"/>
<path d="M925.5,303 l3,-6 l2.6,5 l-2.6,5 z" fill="#fff" stroke="#8a8a8a" stroke-width="0.8"/>
<rect x="895" y="313.5" width="34" height="1.5" fill="#d0d0d0" stroke="none" stroke-width="1" />
<rect x="895" y="318" width="33" height="1.5" fill="#d0d0d0" stroke="none" stroke-width="1" />
<rect x="553" y="301.5" width="9" height="1.6" fill="#cdcdcd" stroke="none" stroke-width="1" />
<line x1="147" y1="290.3" x2="163" y2="290.3" stroke="#444" stroke-width="1.1" />
<rect x="152" y="287" width="5" height="1.6" fill="#999" stroke="none" stroke-width="1" />
<line x1="653" y1="302.8" x2="668" y2="302.8" stroke="#555" stroke-width="1.1" />
<rect x="657" y="300" width="5" height="1.5" fill="#999" stroke="none" stroke-width="1" />
<line x1="1133" y1="291.6" x2="1148" y2="291.6" stroke="#444" stroke-width="1.1" />
<rect x="1137" y="288.4" width="5" height="1.6" fill="#999" stroke="none" stroke-width="1" />
<rect x="433" y="119.5" width="8" height="3.4" fill="#fff" stroke="#8a8a8a" stroke-width="0.9" />
<rect x="533" y="117.6" width="13" height="3" fill="#8c8c8c" stroke="none" stroke-width="1" />
<rect x="839" y="119.5" width="9" height="3.4" fill="#fff" stroke="#8a8a8a" stroke-width="0.9" />
<rect x="855" y="116.6" width="13" height="3" fill="#8c8c8c" stroke="none" stroke-width="1" />
<rect x="285" y="119" width="10" height="3" fill="#fff" stroke="#8a8a8a" stroke-width="0.9" />
<rect x="379" y="337" width="9" height="3.2" fill="#fff" stroke="#8a8a8a" stroke-width="0.9" />
<rect x="445" y="344.6" width="15" height="2.6" fill="#fff" stroke="#8a8a8a" stroke-width="0.8" />
<rect x="640" y="337" width="9" height="3" fill="#fff" stroke="#8a8a8a" stroke-width="0.9" />
<rect x="678" y="344.6" width="15" height="2.6" fill="#fff" stroke="#8a8a8a" stroke-width="0.8" />
<rect x="1003" y="337" width="8" height="3.4" fill="#fff" stroke="#8a8a8a" stroke-width="0.9" />
<rect x="639" y="22.5" width="11" height="2.6" fill="#c6c6c6" stroke="none" stroke-width="1" />
<rect x="627" y="33" width="14" height="1.8" fill="#cdcdcd" stroke="none" stroke-width="1" />
<rect x="659" y="33" width="16" height="1.8" fill="#cdcdcd" stroke="none" stroke-width="1" />
<rect x="627" y="41" width="14" height="1.8" fill="#cdcdcd" stroke="none" stroke-width="1" />
<rect x="659" y="41" width="16" height="1.8" fill="#cdcdcd" stroke="none" stroke-width="1" />
<rect x="611" y="36.5" width="10" height="2" fill="#c6c6c6" stroke="none" stroke-width="1" />
<rect x="682" y="36.5" width="18" height="2" fill="#c6c6c6" stroke="none" stroke-width="1" />
<line x1="624" y1="37.6" x2="678" y2="37.6" stroke="#a0a0a0" stroke-width="0.8" />
<rect x="644.5" y="69" width="1.6" height="28" fill="#d4d4d4" stroke="none" stroke-width="1" />
<rect x="648.5" y="74" width="1.6" height="22" fill="#d4d4d4" stroke="none" stroke-width="1" />
<rect x="234.10000000000002" y="214" width="16.399999999999977" height="10.300000000000011" fill="#fff" stroke="#0a0aff" stroke-width="1.6" />
<rect x="236.70000000000002" y="216.2" width="11.199999999999989" height="5.900000000000034" fill="#d8dcff" stroke="#0a0aff" stroke-width="0.9" />
<line x1="236.70000000000002" y1="219.15" x2="247.9" y2="219.15" stroke="#0a0aff" stroke-width="0.9" />
<rect x="234.10000000000002" y="237" width="16.399999999999977" height="10" fill="#fff" stroke="#0a0aff" stroke-width="1.6" />
<rect x="236.70000000000002" y="239.2" width="11.199999999999989" height="5.600000000000023" fill="#d8dcff" stroke="#0a0aff" stroke-width="0.9" />
<line x1="236.70000000000002" y1="242.0" x2="247.9" y2="242.0" stroke="#0a0aff" stroke-width="0.9" />
<rect x="233.05" y="224.8" width="18.5" height="11" fill="#dcdcdc" stroke="#858585" stroke-width="1.3" />
<rect x="235.05" y="226.8" width="14.5" height="7" fill="#d6d6d6" stroke="#b0b0b0" stroke-width="0.6" />
<rect x="1052.3999999999999" y="214" width="16.40000000000009" height="10.300000000000011" fill="#fff" stroke="#0a0aff" stroke-width="1.6" />
<rect x="1055.0" y="216.2" width="11.199999999999818" height="5.900000000000034" fill="#d8dcff" stroke="#0a0aff" stroke-width="0.9" />
<line x1="1055.0" y1="219.15" x2="1066.1999999999998" y2="219.15" stroke="#0a0aff" stroke-width="0.9" />
<rect x="1052.3999999999999" y="237" width="16.40000000000009" height="10" fill="#fff" stroke="#0a0aff" stroke-width="1.6" />
<rect x="1055.0" y="239.2" width="11.199999999999818" height="5.600000000000023" fill="#d8dcff" stroke="#0a0aff" stroke-width="0.9" />
<line x1="1055.0" y1="242.0" x2="1066.1999999999998" y2="242.0" stroke="#0a0aff" stroke-width="0.9" />
<rect x="1051.35" y="224.8" width="18.5" height="11" fill="#dcdcdc" stroke="#858585" stroke-width="1.3" />
<rect x="1053.35" y="226.8" width="14.5" height="7" fill="#d6d6d6" stroke="#b0b0b0" stroke-width="0.6" />
</g>
<g id="extras">
<polyline points="26,324 26,313.5 44.4,313.5 44.4,317.5 30,317.5 30,324" fill="none" stroke="#8a8a8a" stroke-width="1" />
<path d="M26.1,324 A12.4,12.4 0 0 1 38.5,336.4 H26.1" fill="none" stroke="#8a8a8a" stroke-width="1"/>
<path d="M45.7,314.8 V327.2 A12,12 0 0 0 57.5,314.8" fill="none" stroke="#8a8a8a" stroke-width="1"/>
<path d="M66,314.8 V327.2 A12.6,12.6 0 0 0 79,314.8" fill="none" stroke="#8a8a8a" stroke-width="1"/>
<rect x="59.5" y="314.2" width="5.900000000000006" height="4.600000000000023" fill="#fff" stroke="#8a8a8a" stroke-width="1" />
<rect x="80.4" y="309" width="5.8999999999999915" height="9.800000000000011" fill="#fff" stroke="#8a8a8a" stroke-width="1" />
<path d="M81,206 Q88,206 88.5,212.5 M81,219 Q88,219 88.5,212.5" fill="none" stroke="#8a8a8a" stroke-width="0.9"/>
<rect x="80.5" y="200" width="5.5" height="6" fill="#fff" stroke="#8a8a8a" stroke-width="0.9" />
<rect x="80.5" y="219" width="5.5" height="21" fill="#fff" stroke="#8a8a8a" stroke-width="0.9" />
<text x="76" y="437" font-size="5.6" font-weight="700" fill="#111" text-anchor="start">(4.767)</text>
<line x1="76" y1="438.2" x2="97" y2="438.2" stroke="#555" stroke-width="0.8" />
<text x="40.5" y="449.5" font-size="5.6" font-weight="700" fill="#111" text-anchor="start">9.7%</text>
<line x1="33" y1="450.3" x2="55" y2="450.3" stroke="#555" stroke-width="0.8" />
<path d="M32,450.3 l5,-1.4 v2.8 z" fill="#555"/>
<text x="137" y="451" font-size="5.6" font-weight="700" fill="#111" text-anchor="start">(4.767)</text>
<text x="175" y="447" font-size="5.6" font-weight="700" fill="#111" text-anchor="start">1%</text>
<line x1="180.5" y1="445.2" x2="200" y2="445.2" stroke="#555" stroke-width="0.8" />
<path d="M201.5,445.2 l-5,-1.4 v2.8 z" fill="#555"/>
<rect x="100" y="443.6" width="33" height="2.2" fill="#9c9c9c" stroke="none" stroke-width="1" />
<rect x="107" y="449.6" width="25" height="2" fill="#b0b0b0" stroke="none" stroke-width="1" />
<path d="M150,446 l3.8,-3.4 l3.8,3.4 z" fill="#fff" stroke="#9a9a9a" stroke-width="0.7"/>
<rect x="1197.8" y="163.6" width="8.700000000000045" height="4.0" fill="#fff" stroke="#8a8a8a" stroke-width="1" />
<path d="M1209,164 V170 A11,11 0 0 0 1220,176.5" fill="none" stroke="#8a8a8a" stroke-width="1"/>
<line x1="1222" y1="167.6" x2="1276" y2="167.6" stroke="#8a8a8a" stroke-width="1" />
<line x1="1222" y1="172.4" x2="1272" y2="172.4" stroke="#8a8a8a" stroke-width="1" />
<line x1="1215" y1="187.6" x2="1276" y2="187.6" stroke="#8a8a8a" stroke-width="1" />
<line x1="1219" y1="192" x2="1276" y2="192" stroke="#8a8a8a" stroke-width="1" />
<line x1="1215" y1="187.6" x2="1215" y2="226" stroke="#8a8a8a" stroke-width="1" />
<line x1="1219" y1="192" x2="1219" y2="226" stroke="#8a8a8a" stroke-width="1" />
<line x1="1272" y1="172.4" x2="1272" y2="187.6" stroke="#8a8a8a" stroke-width="1" />
<path d="M1268,176 Q1268,183 1275,183" fill="none" stroke="#8a8a8a" stroke-width="0.9"/>
<rect x="1196.5" y="139" width="1.6" height="28" fill="#cfcfcf" stroke="none" stroke-width="1" opacity="0.8"/>
<rect x="1158.5" y="255" width="1.8" height="24" fill="#cfcfcf" stroke="none" stroke-width="1" />
<rect x="86.8" y="266" width="1.8" height="24" fill="#cfcfcf" stroke="none" stroke-width="1" />
<rect x="87.5" y="158" width="1.6" height="10" fill="#d6d6d6" stroke="none" stroke-width="1" />
<rect x="1215.5" y="322" width="4.5" height="8" fill="#fff" stroke="#8a8a8a" stroke-width="0.9" />
<path d="M1213,325 Q1217,327 1213,334" fill="none" stroke="#8a8a8a" stroke-width="0.9"/>
<rect x="1203" y="336.5" width="8" height="2.6" fill="#fff" stroke="#8a8a8a" stroke-width="0.8" />
<rect x="1155" y="354.5" width="135" height="7.5" fill="#fff" stroke="#9a9a9a" stroke-width="1" />
</g>
<g id="flows">
<polyline points="178.0,311.2 178.0,253.5" fill="none" stroke="#f7951d" stroke-width="3.6" stroke-dasharray="15.8 5.9" stroke-dashoffset="0" stroke-linejoin="miter"/>
<polyline points="178.0,235.7 178.0,51.5" fill="none" stroke="#f7951d" stroke-width="3.6" stroke-dasharray="15.8 5.9" stroke-dashoffset="0" stroke-linejoin="miter"/>
<polyline points="178.0,33.7 178.0,0.0" fill="none" stroke="#f7951d" stroke-width="3.6" stroke-dasharray="15.8 5.9" stroke-dashoffset="0" stroke-linejoin="miter"/>
<polygon points="178,237.5 169.75,261.0 178,255.0 186.25,261.0" fill="#f7951d" stroke="none" stroke-width="1" />
<polygon points="178,35.5 169.75,59.0 178,53.0 186.25,59.0" fill="#f7951d" stroke="none" stroke-width="1" />
<polyline points="178.0,311.2 178.0,367.0" fill="none" stroke="#f7951d" stroke-width="3.6" stroke-dasharray="15.8 5.9" stroke-dashoffset="0" stroke-linejoin="miter"/>
<polyline points="178.0,384.8 178.0,415.0 118.5,415.0" fill="none" stroke="#f7951d" stroke-width="3.6" stroke-dasharray="15.8 5.9" stroke-dashoffset="0" stroke-linejoin="miter"/>
<polyline points="100.7,415.0 0.0,415.0" fill="none" stroke="#f7951d" stroke-width="3.6" stroke-dasharray="15.8 5.9" stroke-dashoffset="0" stroke-linejoin="miter"/>
<polyline points="178.0,407.5 178,415 170.5,415.0" fill="none" stroke="#f7951d" stroke-width="3.6" stroke-linejoin="miter"/>
<polygon points="178,383 169.75,359.5 178,365.5 186.25,359.5" fill="#f7951d" stroke="none" stroke-width="1" />
<polygon points="102.5,415 126.0,406.75 120.0,415 126.0,423.25" fill="#f7951d" stroke="none" stroke-width="1" />
<polyline points="632.0,311.2 491.0,311.2" fill="none" stroke="#f7951d" stroke-width="3.6" stroke-dasharray="15.8 5.9" stroke-dashoffset="0" stroke-linejoin="miter"/>
<polyline points="473.2,311.2 310.0,311.2" fill="none" stroke="#f7951d" stroke-width="3.6" stroke-dasharray="15.8 5.9" stroke-dashoffset="0" stroke-linejoin="miter"/>
<polyline points="292.2,311.2 178.0,311.2" fill="none" stroke="#f7951d" stroke-width="3.6" stroke-dasharray="15.8 5.9" stroke-dashoffset="0" stroke-linejoin="miter"/>
<polyline points="178,311.2 187.0,311.2" fill="none" stroke="#f7951d" stroke-width="3.6" />
<polygon points="475,311.2 498.5,302.95 492.5,311.2 498.5,319.45" fill="#f7951d" stroke="none" stroke-width="1" />
<polygon points="294,311.2 317.5,302.95 311.5,311.2 317.5,319.45" fill="#f7951d" stroke="none" stroke-width="1" />
<polyline points="632.0,311.2 844.0,311.2" fill="none" stroke="#f7951d" stroke-width="3.6" stroke-dasharray="15.8 5.9" stroke-dashoffset="0" stroke-linejoin="miter"/>
<polyline points="861.8,311.2 1013.0,311.2" fill="none" stroke="#f7951d" stroke-width="3.6" stroke-dasharray="15.8 5.9" stroke-dashoffset="0" stroke-linejoin="miter"/>
<polyline points="1030.8,311.2 1125.7,311.2" fill="none" stroke="#f7951d" stroke-width="3.6" stroke-dasharray="15.8 5.9" stroke-dashoffset="0" stroke-linejoin="miter"/>
<polyline points="1125.7,311.2 1116.7,311.2" fill="none" stroke="#f7951d" stroke-width="3.6" />
<polygon points="860,311.2 836.5,302.95 842.5,311.2 836.5,319.45" fill="#f7951d" stroke="none" stroke-width="1" />
<polygon points="1029,311.2 1005.5,302.95 1011.5,311.2 1005.5,319.45" fill="#f7951d" stroke="none" stroke-width="1" />
<polyline points="353.0,248.0 390.0,248.0" fill="none" stroke="#f7951d" stroke-width="3.6" stroke-dasharray="15.8 5.9" stroke-dashoffset="0" stroke-linejoin="miter"/>
<polyline points="407.8,248.0 500.0,248.0" fill="none" stroke="#f7951d" stroke-width="3.6" stroke-dasharray="15.8 5.9" stroke-dashoffset="0" stroke-linejoin="miter"/>
<polyline points="517.8,248.0 540.0,248.0 540.0,264.0" fill="none" stroke="#f7951d" stroke-width="3.6" stroke-dasharray="15.8 5.9" stroke-dashoffset="0" stroke-linejoin="miter"/>
<polyline points="540.0,281.8 540.0,311.2" fill="none" stroke="#f7951d" stroke-width="3.6" stroke-dasharray="15.8 5.9" stroke-dashoffset="0" stroke-linejoin="miter"/>
<polyline points="532.5,248.0 540,248 540.0,255.5" fill="none" stroke="#f7951d" stroke-width="3.6" stroke-linejoin="miter"/>
<polyline points="540,311.2 540.0,303.2" fill="none" stroke="#f7951d" stroke-width="3.6" />
<polygon points="406,248 382.5,239.75 388.5,248 382.5,256.25" fill="#f7951d" stroke="none" stroke-width="1" />
<polygon points="516,248 492.5,239.75 498.5,248 492.5,256.25" fill="#f7951d" stroke="none" stroke-width="1" />
<polygon points="540,280 531.75,256.5 540,262.5 548.25,256.5" fill="#f7951d" stroke="none" stroke-width="1" />
<polyline points="957.0,247.3 900.0,247.3" fill="none" stroke="#f7951d" stroke-width="3.6" stroke-dasharray="15.8 5.9" stroke-dashoffset="0" stroke-linejoin="miter"/>
<polyline points="882.2,247.3 787.5,247.3 787.5,264.0" fill="none" stroke="#f7951d" stroke-width="3.6" stroke-dasharray="15.8 5.9" stroke-dashoffset="0" stroke-linejoin="miter"/>
<polyline points="787.5,281.8 787.5,311.2" fill="none" stroke="#f7951d" stroke-width="3.6" stroke-dasharray="15.8 5.9" stroke-dashoffset="0" stroke-linejoin="miter"/>
<polyline points="795.0,247.3 787.5,247.3 787.5,254.8" fill="none" stroke="#f7951d" stroke-width="3.6" stroke-linejoin="miter"/>
<polyline points="787.5,311.2 787.5,303.2" fill="none" stroke="#f7951d" stroke-width="3.6" />
<polygon points="884,247.3 907.5,239.05 901.5,247.3 907.5,255.55" fill="#f7951d" stroke="none" stroke-width="1" />
<polygon points="787.5,280 779.25,256.5 787.5,262.5 795.75,256.5" fill="#f7951d" stroke="none" stroke-width="1" />
<polyline points="685.0,215.3 676.5,215.3" fill="none" stroke="#f7951d" stroke-width="3.6" stroke-dasharray="15.8 5.9" stroke-dashoffset="0" stroke-linejoin="miter"/>
<polyline points="658.7,215.3 632.0,215.3 632.0,249.0" fill="none" stroke="#f7951d" stroke-width="3.6" stroke-dasharray="15.8 5.9" stroke-dashoffset="0" stroke-linejoin="miter"/>
<polyline points="632.0,266.8 632.0,311.2" fill="none" stroke="#f7951d" stroke-width="3.6" stroke-dasharray="15.8 5.9" stroke-dashoffset="0" stroke-linejoin="miter"/>
<polyline points="639.5,215.3 632,215.3 632.0,222.8" fill="none" stroke="#f7951d" stroke-width="3.6" stroke-linejoin="miter"/>
<polyline points="632,311.2 632.0,303.2" fill="none" stroke="#f7951d" stroke-width="3.6" />
<polygon points="660.5,215.3 684.0,207.05 678.0,215.3 684.0,223.55" fill="#f7951d" stroke="none" stroke-width="1" />
<polygon points="632,265 623.75,241.5 632,247.5 640.25,241.5" fill="#f7951d" stroke="none" stroke-width="1" />
<polyline points="1125.7,459.0 1125.7,221.5" fill="none" stroke="#f7951d" stroke-width="3.6" stroke-dasharray="15.8 5.9" stroke-dashoffset="4" stroke-linejoin="miter"/>
<polyline points="1125.7,203.7 1125.7,34.5" fill="none" stroke="#f7951d" stroke-width="3.6" stroke-dasharray="15.8 5.9" stroke-dashoffset="0" stroke-linejoin="miter"/>
<polyline points="1125.7,16.7 1125.7,0.0" fill="none" stroke="#f7951d" stroke-width="3.6" stroke-dasharray="15.8 5.9" stroke-dashoffset="0" stroke-linejoin="miter"/>
<polygon points="1125.7,205.5 1117.45,229.0 1125.7,223.0 1133.95,229.0" fill="#f7951d" stroke="none" stroke-width="1" />
<polygon points="1125.7,18.5 1117.45,42.0 1125.7,36.0 1133.95,42.0" fill="#f7951d" stroke="none" stroke-width="1" />
<polyline points="204.8,0.0 204.8,30.0" fill="none" stroke="#1f72b9" stroke-width="3.6" stroke-dasharray="15.8 5.9" stroke-dashoffset="6" stroke-linejoin="miter"/>
<polyline points="204.8,47.8 204.8,150.0 244.5,150.0" fill="none" stroke="#1f72b9" stroke-width="3.6" stroke-dasharray="15.8 5.9" stroke-dashoffset="0" stroke-linejoin="miter"/>
<polyline points="262.3,150.0 460.5,150.0" fill="none" stroke="#1f72b9" stroke-width="3.6" stroke-dasharray="15.8 5.9" stroke-dashoffset="0" stroke-linejoin="miter"/>
<polyline points="478.3,150.0 658.0,150.0" fill="none" stroke="#1f72b9" stroke-width="3.6" stroke-dasharray="15.8 5.9" stroke-dashoffset="0" stroke-linejoin="miter"/>
<polyline points="204.8,142.5 204.8,150 212.3,150.0" fill="none" stroke="#1f72b9" stroke-width="3.6" stroke-linejoin="miter"/>
<polygon points="204.8,46 196.55,22.5 204.8,28.5 213.05,22.5" fill="#1f72b9" stroke="none" stroke-width="1" />
<polygon points="260.5,150 237.0,141.75 243.0,150 237.0,158.25" fill="#1f72b9" stroke="none" stroke-width="1" />
<polygon points="476.5,150 453.0,141.75 459.0,150 453.0,158.25" fill="#1f72b9" stroke="none" stroke-width="1" />
<polyline points="0.0,440.0 118.0,440.0" fill="none" stroke="#1f72b9" stroke-width="3.6" stroke-dasharray="15.8 5.9" stroke-dashoffset="3" stroke-linejoin="miter"/>
<polyline points="135.8,440.0 204.8,440.0 204.8,272.0" fill="none" stroke="#1f72b9" stroke-width="3.6" stroke-dasharray="15.8 5.9" stroke-dashoffset="0" stroke-linejoin="miter"/>
<polyline points="204.8,254.2 204.8,150.0" fill="none" stroke="#1f72b9" stroke-width="3.6" stroke-dasharray="15.8 5.9" stroke-dashoffset="0" stroke-linejoin="miter"/>
<polyline points="197.3,440.0 204.8,440 204.8,432.5" fill="none" stroke="#1f72b9" stroke-width="3.6" stroke-linejoin="miter"/>
<polyline points="204.8,150 204.8,158.0" fill="none" stroke="#1f72b9" stroke-width="3.6" />
<polygon points="134,440 110.5,431.75 116.5,440 110.5,448.25" fill="#1f72b9" stroke="none" stroke-width="1" />
<polygon points="204.8,256 196.55,279.5 204.8,273.5 213.05,279.5" fill="#1f72b9" stroke="none" stroke-width="1" />
<polyline points="1101.0,150.0 1057.5,150.0" fill="none" stroke="#1f72b9" stroke-width="3.6" stroke-dasharray="15.8 5.9" stroke-dashoffset="0" stroke-linejoin="miter"/>
<polyline points="1039.7,150.0 841.5,150.0" fill="none" stroke="#1f72b9" stroke-width="3.6" stroke-dasharray="15.8 5.9" stroke-dashoffset="0" stroke-linejoin="miter"/>
<polyline points="823.7,150.0 646.0,150.0" fill="none" stroke="#1f72b9" stroke-width="3.6" stroke-dasharray="15.8 5.9" stroke-dashoffset="0" stroke-linejoin="miter"/>
<polyline points="1101,150 1093.0,150.0" fill="none" stroke="#1f72b9" stroke-width="3.6" />
<polygon points="1041.5,150 1065.0,141.75 1059.0,150 1065.0,158.25" fill="#1f72b9" stroke="none" stroke-width="1" />
<polygon points="825.5,150 849.0,141.75 843.0,150 849.0,158.25" fill="#1f72b9" stroke="none" stroke-width="1" />
<polyline points="1101.0,0.0 1101.0,30.0" fill="none" stroke="#1f72b9" stroke-width="3.6" stroke-dasharray="15.8 5.9" stroke-dashoffset="6" stroke-linejoin="miter"/>
<polyline points="1101.0,47.8 1101.0,150.0" fill="none" stroke="#1f72b9" stroke-width="3.6" stroke-dasharray="15.8 5.9" stroke-dashoffset="0" stroke-linejoin="miter"/>
<polygon points="1101,46 1092.75,22.5 1101,28.5 1109.25,22.5" fill="#1f72b9" stroke="none" stroke-width="1" />
<polyline points="1101.0,459.0 1101.0,433.5" fill="none" stroke="#1f72b9" stroke-width="3.6" stroke-dasharray="15.8 5.9" stroke-dashoffset="5" stroke-linejoin="miter"/>
<polyline points="1101.0,415.7 1101.0,223.5" fill="none" stroke="#1f72b9" stroke-width="3.6" stroke-dasharray="15.8 5.9" stroke-dashoffset="0" stroke-linejoin="miter"/>
<polyline points="1101.0,205.7 1101.0,150.0" fill="none" stroke="#1f72b9" stroke-width="3.6" stroke-dasharray="15.8 5.9" stroke-dashoffset="0" stroke-linejoin="miter"/>
<polygon points="1101,417.5 1092.75,441.0 1101,435.0 1109.25,441.0" fill="#1f72b9" stroke="none" stroke-width="1" />
<polygon points="1101,207.5 1092.75,231.0 1101,225.0 1109.25,231.0" fill="#1f72b9" stroke="none" stroke-width="1" />
<polyline points="551.5,150.0 551.5,173.0" fill="none" stroke="#1f72b9" stroke-width="3.6" stroke-dasharray="15.8 5.9" stroke-dashoffset="0" stroke-linejoin="miter"/>
<polyline points="551.5,190.8 551.5,282.8 621.0,282.8 621.0,255.5" fill="none" stroke="#1f72b9" stroke-width="3.6" stroke-dasharray="15.8 5.9" stroke-dashoffset="0" stroke-linejoin="miter"/>
<polyline points="621.0,237.7 621.0,203.2 645.0,203.2" fill="none" stroke="#1f72b9" stroke-width="3.6" stroke-dasharray="15.8 5.9" stroke-dashoffset="0" stroke-linejoin="miter"/>
<polyline points="662.8,203.2 685.0,203.2" fill="none" stroke="#1f72b9" stroke-width="3.6" stroke-dasharray="15.8 5.9" stroke-dashoffset="0" stroke-linejoin="miter"/>
<polyline points="551.5,275.3 551.5,282.8 559.0,282.8" fill="none" stroke="#1f72b9" stroke-width="3.6" stroke-linejoin="miter"/>
<polyline points="613.5,282.8 621,282.8 621.0,275.3" fill="none" stroke="#1f72b9" stroke-width="3.6" stroke-linejoin="miter"/>
<polyline points="621.0,210.7 621,203.2 628.5,203.2" fill="none" stroke="#1f72b9" stroke-width="3.6" stroke-linejoin="miter"/>
<polyline points="551.5,150 551.5,158.0" fill="none" stroke="#1f72b9" stroke-width="3.6" />
<polygon points="551.5,189 543.25,165.5 551.5,171.5 559.75,165.5" fill="#1f72b9" stroke="none" stroke-width="1" />
<polygon points="621,239.5 612.75,263.0 621,257.0 629.25,263.0" fill="#1f72b9" stroke="none" stroke-width="1" />
<polygon points="661,203.2 637.5,194.95 643.5,203.2 637.5,211.45" fill="#1f72b9" stroke="none" stroke-width="1" />
<polyline points="759.5,150.0 759.5,175.0" fill="none" stroke="#1f72b9" stroke-width="3.6" stroke-dasharray="15.8 5.9" stroke-dashoffset="0" stroke-linejoin="miter"/>
<polyline points="759.5,192.8 759.5,282.8 621.0,282.8" fill="none" stroke="#1f72b9" stroke-width="3.6" stroke-dasharray="15.8 5.9" stroke-dashoffset="0" stroke-linejoin="miter"/>
<polyline points="759.5,275.3 759.5,282.8 752.0,282.8" fill="none" stroke="#1f72b9" stroke-width="3.6" stroke-linejoin="miter"/>
<polyline points="759.5,150 759.5,158.0" fill="none" stroke="#1f72b9" stroke-width="3.6" />
<polygon points="759.5,191 751.25,167.5 759.5,173.5 767.75,167.5" fill="#1f72b9" stroke="none" stroke-width="1" />
<polyline points="551.5,204.0 519.0,204.0" fill="none" stroke="#1f72b9" stroke-width="3.6" stroke-dasharray="15.8 5.9" stroke-dashoffset="0" stroke-linejoin="miter"/>
<polyline points="501.2,204.0 399.0,204.0" fill="none" stroke="#1f72b9" stroke-width="3.6" stroke-dasharray="15.8 5.9" stroke-dashoffset="0" stroke-linejoin="miter"/>
<polyline points="381.2,204.0 351.0,204.0" fill="none" stroke="#1f72b9" stroke-width="3.6" stroke-dasharray="15.8 5.9" stroke-dashoffset="0" stroke-linejoin="miter"/>
<polyline points="551.5,204 543.5,204.0" fill="none" stroke="#1f72b9" stroke-width="3.6" />
<polygon points="503,204 526.5,195.75 520.5,204 526.5,212.25" fill="#1f72b9" stroke="none" stroke-width="1" />
<polygon points="383,204 406.5,195.75 400.5,204 406.5,212.25" fill="#1f72b9" stroke="none" stroke-width="1" />
<polyline points="759.5,212.8 835.5,212.8" fill="none" stroke="#1f72b9" stroke-width="3.6" stroke-dasharray="15.8 5.9" stroke-dashoffset="0" stroke-linejoin="miter"/>
<polyline points="853.3,212.8 921.5,212.8" fill="none" stroke="#1f72b9" stroke-width="3.6" stroke-dasharray="15.8 5.9" stroke-dashoffset="0" stroke-linejoin="miter"/>
<polyline points="939.3,212.8 957.5,212.8" fill="none" stroke="#1f72b9" stroke-width="3.6" stroke-dasharray="15.8 5.9" stroke-dashoffset="0" stroke-linejoin="miter"/>
<polyline points="759.5,212.8 767.5,212.8" fill="none" stroke="#1f72b9" stroke-width="3.6" />
<polygon points="851.5,212.8 828.0,204.55 834.0,212.8 828.0,221.05" fill="#1f72b9" stroke="none" stroke-width="1" />
<polygon points="937.5,212.8 914.0,204.55 920.0,212.8 914.0,221.05" fill="#1f72b9" stroke="none" stroke-width="1" />
</g>
<g id="labels" fill="#c00000" font-weight="700">
<text class="cjk" y="48.6" font-size="27.7"><tspan x="269.8">D</tspan><tspan x="289.5">出入口</tspan></text>
<text class="cjk" y="81.7" font-size="26.9"><tspan x="256.5" dy="-1.5">(</tspan><tspan x="266.8" dy="1.5">湿地公园</tspan><tspan x="377" dy="-1.5">)</tspan></text>
<text class="cjk" y="48.6" font-size="27.2"><tspan x="934.6">C</tspan><tspan x="952.5">出入口</tspan></text>
<text class="cjk" y="81.7" font-size="26.9"><tspan x="919.7" dy="-1.5">(</tspan><tspan x="930" dy="1.5">湿地公园</tspan><tspan x="1040.3" dy="-1.5">)</tspan></text>
<text class="cjk" y="399" font-size="27.8"><tspan x="281.7">A</tspan><tspan x="299.5">出入口</tspan></text>
<text class="cjk" y="431.7" font-size="26.95"><tspan x="253.6" dy="-1.5">(</tspan><tspan x="264" dy="1.5">辉煌石材城</tspan><tspan x="401.4" dy="-1.5">)</tspan></text>
<text class="cjk" y="399" font-size="27.1"><tspan x="923.6">B</tspan><tspan x="942.1">出入口</tspan></text>
<text class="cjk" y="431.7" font-size="26.86"><tspan x="895.7" dy="-1.5">(</tspan><tspan x="906" dy="1.5">中铁十九局</tspan><tspan x="1043" dy="-1.5">)</tspan></text>
</g>
<g id="store">
<rect x="1161" y="222" width="5" height="20" fill="#fff" stroke="#8a8a8a" stroke-width="1" />
<rect x="1161" y="298" width="5" height="11" fill="#fff" stroke="#8a8a8a" stroke-width="1" />
<path d="M1181,225 V214 A11,11 0 0 1 1192,225" fill="none" stroke="#8a8a8a" stroke-width="1"/>
<rect x="1165.6" y="226.4" width="55.0" height="81.20000000000002" fill="#ffe1a0" stroke="#1ca79a" stroke-width="2" />
<text class="cjk" x="1184.6" y="252.5" font-size="19" font-weight="700" fill="#ff0000">便</text>
<text class="cjk" x="1184.6" y="275" font-size="19" font-weight="700" fill="#ff0000">利</text>
<text class="cjk" x="1184.6" y="298.3" font-size="19" font-weight="700" fill="#ff0000">店</text>
<path d="M1127,379.3 H1149.5 L1178,296.3 L1196,379.3 H1300 V443.6 H1127 Q1117,443.6 1117,433.6 V389.3 Q1117,379.3 1127,379.3 Z" fill="#1db3a1"/>
<text class="cjk" y="418.3" font-size="21.5" font-weight="700" fill="#000"><tspan x="1141.5">102</tspan><tspan x="1182.4">：</tspan><tspan x="1203.7">25.41</tspan><tspan x="1262">㎡</tspan></text>
</g>
</svg>
</body></html>
